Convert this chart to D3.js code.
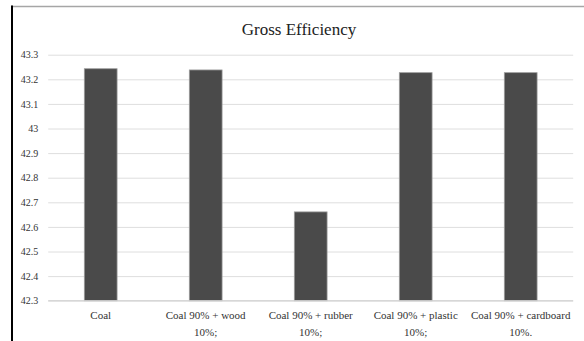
<html>
<head>
  <meta charset="utf-8" />
  <style>
    body { margin: 0; background: #fff; }
    text { font-family: 'Liberation Serif', 'Times New Roman', serif; }
  </style>
</head>
<body>
  <svg id="chart" width="584" height="341"></svg>
<script src="https://cdn.jsdelivr.net/npm/d3@7/dist/d3.min.js"></script>
<script>

// data
var categories = ['Coal', 'Coal 90% + wood 10%;', 'Coal 90% + rubber 10%;', 'Coal 90% + plastic 10%;', 'Coal 90% + cardboard 10%.']
var labelLines = [['Coal'], ['Coal 90% + wood', '10%;'], ['Coal 90% + rubber', '10%;'], ['Coal 90% + plastic', '10%;'], ['Coal 90% + cardboard', '10%.']]
var efficiency = [43.243, 43.238, 42.661, 43.227, 43.227]
var yTicks = [42.3, 42.4, 42.5, 42.6, 42.7, 42.8, 42.9, 43, 43.1, 43.2, 43.3]

var svg = d3.select('#chart')

var x = d3.scaleBand()
  .domain(categories)
  .range([48.2, 573.2])
  .paddingInner(0.688)
  .paddingOuter(0.344)

var y = d3.scaleLinear()
  .domain([42.3, 43.3])
  .range([300.7, 54.7])

// frame
svg.append('line')
  .attr('x1', 11).attr('x2', 584).attr('y1', 6.5).attr('y2', 6.5)
  .attr('stroke', '#a6a6a6').attr('stroke-width', 1.5)
svg.append('line')
  .attr('x1', 12).attr('x2', 12).attr('y1', 5.5).attr('y2', 341)
  .attr('stroke', '#000').attr('stroke-width', 2)

svg.append('text')
  .attr('x', 299).attr('y', 35)
  .attr('text-anchor', 'middle')
  .attr('font-size', 17)
  .attr('fill', '#222')
  .text('Gross Efficiency')

// gridlines + y labels
var yAxis = d3.axisLeft(y)
  .tickValues(yTicks)
  .tickSize(-(573.2 - 48.2))
  .tickPadding(10)
  .tickFormat(d => d3.format('~g')(d))

svg.append('g')
  .attr('transform', 'translate(48.2,0)')
  .call(yAxis)
  .call(g => g.select('.domain').remove())
  .call(g => g.selectAll('.tick line').attr('stroke', '#dedede'))
  .call(g => g.selectAll('.tick text')
    .attr('font-family', "'Liberation Serif', serif")
    .attr('font-size', 10).attr('fill', '#333'))

svg.selectAll('rect.bar')
  .data(efficiency)
  .enter().append('rect')
  .attr('class', 'bar')
  .attr('x', (d, i) => x(categories[i]))
  .attr('width', x.bandwidth())
  .attr('y', d => y(d))
  .attr('height', d => y(42.3) - y(d))
  .attr('fill', '#4a4a4a')
  .attr('stroke', '#9c9c9c')
  .attr('stroke-width', 0.8)

svg.append('line')
  .attr('x1', 48.2).attr('x2', 573.2).attr('y1', y(42.3)).attr('y2', y(42.3))
  .attr('stroke', '#d0d0d0')

// category labels
var lbl = svg.selectAll('text.cat')
  .data(labelLines)
  .enter().append('text')
  .attr('class', 'cat')
  .attr('text-anchor', 'middle')
  .attr('font-size', 11)
  .attr('fill', '#333')
  .attr('transform', (d, i) => 'translate(' + (x(categories[i]) + x.bandwidth() / 2) + ',319)')

lbl.selectAll('tspan')
  .data(d => d)
  .enter().append('tspan')
  .attr('x', 0)
  .attr('y', (d, i) => i * 16.5)
  .text(d => d)

</script>
</body>
</html>
